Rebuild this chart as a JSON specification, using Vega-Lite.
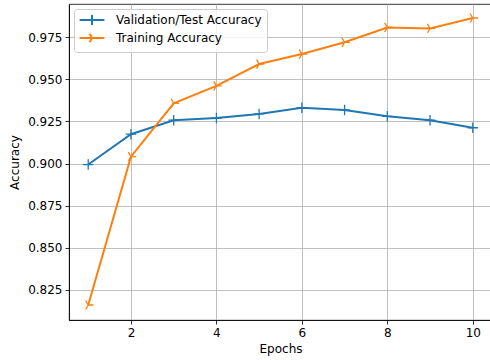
{
  "$schema": "https://vega.github.io/schema/vega-lite/v6.json",
  "width": 423,
  "height": 316,
  "autosize": {"type": "none"},
  "padding": {"left": 69, "top": 4, "right": 0, "bottom": 40},
  "background": "white",
  "config": {
    "font": "DejaVu Sans",
    "view": {"stroke": "#000000", "strokeWidth": 0.8},
    "axis": {
      "domainColor": "#000000",
      "domainWidth": 0.8,
      "tickColor": "#000000",
      "tickWidth": 0.8,
      "tickSize": 4,
      "gridColor": "#b0b0b0",
      "gridWidth": 0.8,
      "labelColor": "#000000",
      "labelFont": "DejaVu Sans",
      "labelFontSize": 12,
      "labelPadding": 3,
      "titleFont": "DejaVu Sans",
      "titleFontSize": 12,
      "titleFontWeight": "normal",
      "titleColor": "#000000"
    },
    "legend": {
      "labelFont": "DejaVu Sans",
      "labelFontSize": 12,
      "labelColor": "#000000"
    }
  },
  "data": {
    "values": [
      {"epoch": 1, "series": "Validation/Test Accuracy", "acc": 0.8994},
      {"epoch": 2, "series": "Validation/Test Accuracy", "acc": 0.9174},
      {"epoch": 3, "series": "Validation/Test Accuracy", "acc": 0.9257},
      {"epoch": 4, "series": "Validation/Test Accuracy", "acc": 0.9270},
      {"epoch": 5, "series": "Validation/Test Accuracy", "acc": 0.9294},
      {"epoch": 6, "series": "Validation/Test Accuracy", "acc": 0.9331},
      {"epoch": 7, "series": "Validation/Test Accuracy", "acc": 0.9318},
      {"epoch": 8, "series": "Validation/Test Accuracy", "acc": 0.9280},
      {"epoch": 9, "series": "Validation/Test Accuracy", "acc": 0.9257},
      {"epoch": 10, "series": "Validation/Test Accuracy", "acc": 0.9212},
      {"epoch": 1, "series": "Training Accuracy", "acc": 0.8161},
      {"epoch": 2, "series": "Training Accuracy", "acc": 0.9041},
      {"epoch": 3, "series": "Training Accuracy", "acc": 0.9357},
      {"epoch": 4, "series": "Training Accuracy", "acc": 0.9460},
      {"epoch": 5, "series": "Training Accuracy", "acc": 0.9590},
      {"epoch": 6, "series": "Training Accuracy", "acc": 0.9649},
      {"epoch": 7, "series": "Training Accuracy", "acc": 0.9719},
      {"epoch": 8, "series": "Training Accuracy", "acc": 0.9807},
      {"epoch": 9, "series": "Training Accuracy", "acc": 0.9801},
      {"epoch": 10, "series": "Training Accuracy", "acc": 0.9863}
    ]
  },
  "encoding": {
    "x": {
      "field": "epoch",
      "type": "quantitative",
      "scale": {"domain": [0.55, 10.45], "nice": false, "zero": false},
      "axis": {"values": [2, 4, 6, 8, 10], "title": "Epochs", "titlePadding": 5, "format": "d"}
    },
    "y": {
      "field": "acc",
      "type": "quantitative",
      "scale": {"domain": [0.8072, 0.9946], "nice": false, "zero": false},
      "axis": {"values": [0.825, 0.85, 0.875, 0.9, 0.925, 0.95, 0.975], "format": ".3f", "title": "Accuracy", "titlePadding": 6}
    },
    "color": {
      "field": "series",
      "type": "nominal",
      "scale": {"domain": ["Validation/Test Accuracy", "Training Accuracy"], "range": ["#1f77b4", "#ff7f0e"]},
      "legend": {
        "title": null,
        "orient": "top-left",
        "offset": 5,
        "padding": 5,
        "fillColor": "rgba(255,255,255,0.8)",
        "strokeColor": "#cccccc",
        "cornerRadius": 3,
        "symbolSize": 64,
        "symbolStrokeWidth": 2,
        "symbolOffset": 7,
        "labelOffset": 18,
        "rowPadding": 0,
        "encode": {
          "symbols": {
            "update": {
              "shape": [
                {"test": "datum.value === 'Training Accuracy'", "value": "M-3.1,0L3.1,0M0,0L-0.6,-1.08M0,0L-0.6,1.08"},
                {"value": "M-3.1,0L3.1,0M0,-1.25L0,1.25"}
              ],
              "fillOpacity": {"value": 0},
              "strokeWidth": {"value": 2}
            }
          }
        }
      }
    }
  },
  "layer": [
    {
      "mark": {"type": "line", "strokeWidth": 2}
    },
    {
      "transform": [{"filter": "datum.series === 'Validation/Test Accuracy'"}],
      "mark": {"type": "point", "filled": false, "strokeWidth": 1.3, "size": 110, "opacity": 1, "shape": "M-1,0L1,0M0,-1L0,1"}
    },
    {
      "transform": [{"filter": "datum.series === 'Training Accuracy'"}],
      "mark": {"type": "point", "filled": false, "strokeWidth": 1.3, "size": 110, "opacity": 1, "shape": "M0,0L1,0M0,0L-0.5,-0.866M0,0L-0.5,0.866"}
    }
  ]
}
